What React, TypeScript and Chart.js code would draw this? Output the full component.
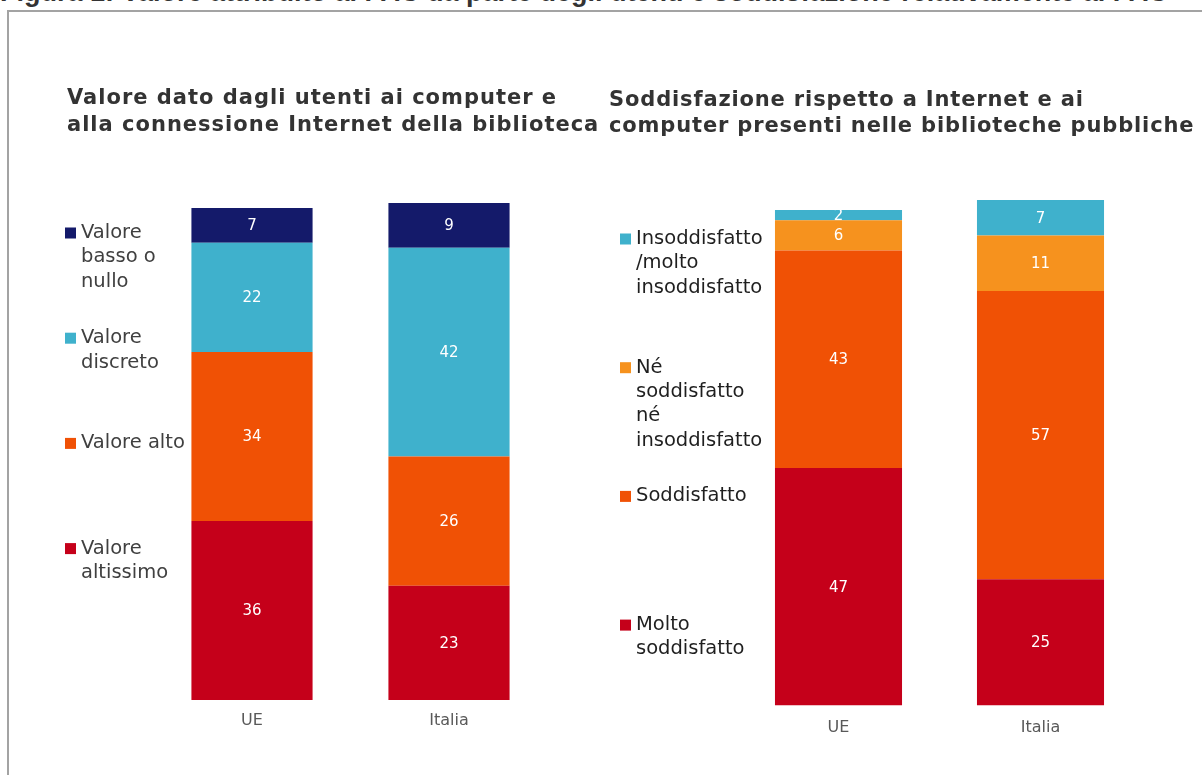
import React, { useEffect, useRef } from "react";
import { Chart, registerables } from "chart.js";

Chart.register(...registerables);

// ---------- data ----------
const figureTitle =
  "Figura 1: Valore attribuito ai PAC da parte degli utenti e soddisfazione relativamente ai PAC";

const categories = ["UE", "Italia"];

// Left chart (datasets listed bottom -> top of stack)
const leftTitle = [
  "Valore dato dagli utenti ai computer e",
  "alla connessione Internet della biblioteca",
];
const leftSeriesNames = [
  "Valore altissimo",
  "Valore alto",
  "Valore discreto",
  "Valore basso o nullo",
];
const leftLegendLines = [
  ["Valore", "altissimo"],
  ["Valore alto"],
  ["Valore", "discreto"],
  ["Valore", "basso o", "nullo"],
];
const leftAltissimo = [36, 23];
const leftAlto = [34, 26];
const leftDiscreto = [22, 42];
const leftBasso = [7, 9];
const leftColors = ["#c5001a", "#f05105", "#3fb1cc", "#141a6a"];

// Right chart (datasets listed bottom -> top of stack)
const rightTitle = [
  "Soddisfazione rispetto a Internet e ai",
  "computer presenti nelle biblioteche pubbliche",
];
const rightSeriesNames = [
  "Molto soddisfatto",
  "Soddisfatto",
  "Né soddisfatto né insoddisfatto",
  "Insoddisfatto/molto insoddisfatto",
];
const rightLegendLines = [
  ["Molto", "soddisfatto"],
  ["Soddisfatto"],
  ["Né", "soddisfatto", "né", "insoddisfatto"],
  ["Insoddisfatto", "/molto", "insoddisfatto"],
];
const rightMolto = [47, 25];
const rightSoddisfatto = [43, 57];
const rightNe = [6, 11];
const rightInsoddisfatto = [2, 7];
const rightColors = ["#c5001a", "#f05105", "#f6921e", "#3fb1cc"];

const FONT = "'DejaVu Sans', Verdana, sans-serif";

// ---------- plugins ----------
const valueLabelPlugin = {
  id: "valueLabels",
  afterDatasetsDraw(chart: any) {
    const ctx = chart.ctx;
    ctx.save();
    ctx.font = `15px ${FONT}`;
    ctx.fillStyle = "#ffffff";
    ctx.textAlign = "center";
    ctx.textBaseline = "middle";
    chart.data.datasets.forEach((ds: any, i: number) => {
      const meta = chart.getDatasetMeta(i);
      meta.data.forEach((el: any, j: number) => {
        const p = el.getProps(["x", "y", "base"], true);
        ctx.fillText(String(ds.data[j]), p.x, (p.y + p.base) / 2 + 1);
      });
    });
    ctx.restore();
  },
};

const decorPlugin = {
  id: "decor",
  afterDraw(chart: any, _args: any, opts: any) {
    const ctx = chart.ctx;
    ctx.save();
    // title
    const t = opts.title;
    ctx.font = `bold ${t.size}px ${FONT}`;
    ctx.fillStyle = t.color;
    ctx.textAlign = "left";
    ctx.textBaseline = "middle";
    (ctx as any).letterSpacing = `${t.spacing}px`;
    t.lines.forEach((line: string, i: number) => {
      ctx.fillText(line, t.x, t.y + i * t.step);
    });
    (ctx as any).letterSpacing = "0px";
    // legend (top item = last dataset)
    const l = opts.legend;
    ctx.font = `${l.size}px ${FONT}`;
    const n = chart.data.datasets.length;
    for (let k = 0; k < n; k++) {
      const di = n - 1 - k;
      const ds = chart.data.datasets[di];
      const y0 = l.y + k * l.itemStep;
      ctx.fillStyle = ds.backgroundColor;
      ctx.fillRect(l.x, y0 - l.box / 2, l.box, l.box);
      ctx.fillStyle = l.color;
      l.lines[di].forEach((line: string, m: number) => {
        ctx.fillText(line, l.textX, y0 + m * l.lineStep);
      });
    }
    ctx.restore();
  },
};

// ---------- chart component ----------
function StackedPanel(props: any) {
  const ref = useRef<HTMLCanvasElement>(null);
  useEffect(() => {
    if (!ref.current) return;
    const chart = new Chart(ref.current, {
      type: "bar",
      data: {
        labels: categories,
        datasets: props.series.map((d: number[], i: number) => ({
          label: props.names[i],
          data: d,
          backgroundColor: props.colors[i],
          borderWidth: 0,
          barPercentage: props.barPct,
          categoryPercentage: 1,
        })),
      },
      options: {
        responsive: false,
        animation: false,
        layout: { padding: props.padding },
        scales: {
          x: {
            stacked: true,
            grid: { display: false, drawTicks: false },
            border: { display: false },
            ticks: {
              color: "#595959",
              font: { size: 16, family: FONT },
              padding: props.tickPad,
            },
            afterFit: (s: any) => {
              s.height = props.axisH;
            },
          },
          y: { stacked: true, display: false, min: 0, max: 100 },
        },
        plugins: {
          legend: { display: false },
          tooltip: { enabled: false },
          decor: { title: props.title, legend: props.legend },
        } as any,
      },
      plugins: [valueLabelPlugin, decorPlugin],
    });
    return () => chart.destroy();
  }, []);
  return (
    <canvas
      ref={ref}
      width={props.w}
      height={775}
      style={{ position: "absolute", left: props.left, top: 0, width: props.w, height: 775 }}
    />
  );
}

export default function App() {
  return (
    <div
      style={{
        position: "absolute",
        left: 0,
        top: 0,
        width: 1202,
        height: 775,
        overflow: "hidden",
        background: "#ffffff",
      }}
    >
      <div
        style={{
          position: "absolute",
          left: 0,
          top: -21,
          whiteSpace: "nowrap",
          fontFamily: "'Liberation Sans', Arial, sans-serif",
          fontWeight: "bold",
          fontSize: 27,
          lineHeight: "27px",
          color: "#333333",
        }}
      >
        {figureTitle}
      </div>
      <div
        style={{
          position: "absolute",
          left: 7,
          top: 10,
          width: 1300,
          height: 900,
          borderLeft: "2px solid #a3a3a3",
          borderTop: "2px solid #a3a3a3",
        }}
      />
      <StackedPanel
        left={0}
        w={600}
        series={[leftAltissimo, leftAlto, leftDiscreto, leftBasso]}
        names={leftSeriesNames}
        colors={leftColors}
        barPct={0.615}
        padding={{ left: 153.5, right: 52.5, top: 203, bottom: 0 }}
        axisH={75}
        tickPad={11}
        title={{ lines: leftTitle, x: 67, y: 99, step: 27, size: 21, spacing: 1, color: "#333333" }}
        legend={{
          lines: leftLegendLines,
          x: 65,
          box: 11,
          textX: 81,
          y: 233,
          itemStep: 105.2,
          lineStep: 24.3,
          size: 19.5,
          color: "#404040",
        }}
      />
      <StackedPanel
        left={600}
        w={602}
        series={[rightMolto, rightSoddisfatto, rightNe, rightInsoddisfatto]}
        names={rightSeriesNames}
        colors={rightColors}
        barPct={0.629}
        padding={{ left: 137.5, right: 60.5, top: 200, bottom: 0 }}
        axisH={69.5}
        tickPad={13}
        title={{ lines: rightTitle, x: 9, y: 100.5, step: 26.5, size: 21, spacing: 0.85, color: "#333333" }}
        legend={{
          lines: rightLegendLines,
          x: 20,
          box: 11,
          textX: 36,
          y: 239,
          itemStep: 128.7,
          lineStep: 24.3,
          size: 19.5,
          color: "#1f1f1f",
        }}
      />
    </div>
  );
}
